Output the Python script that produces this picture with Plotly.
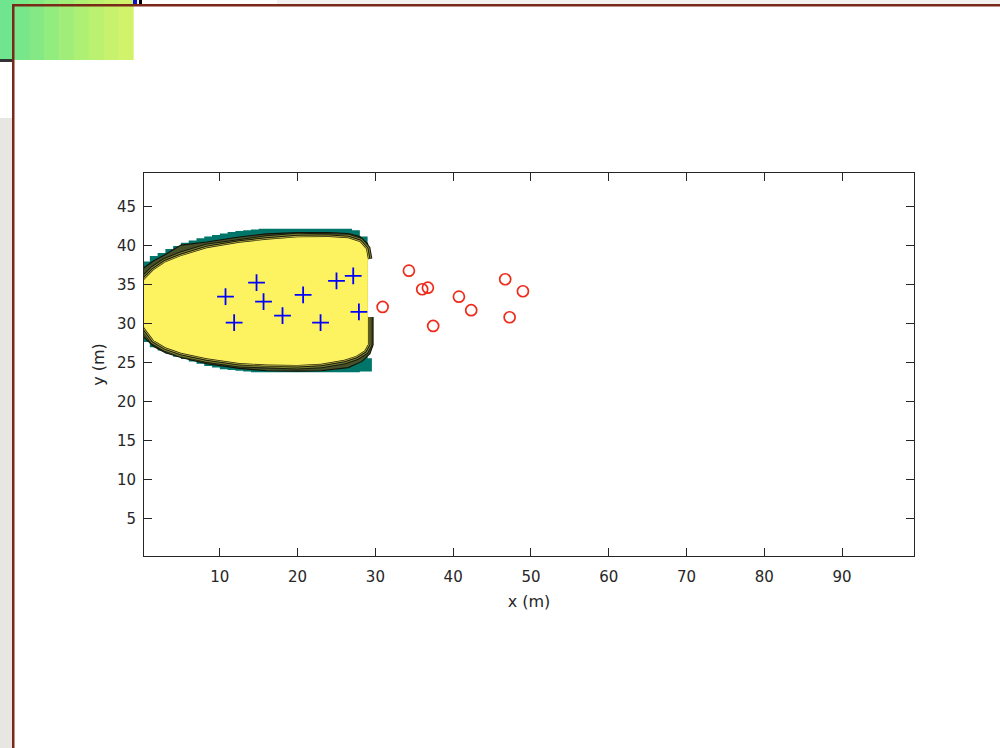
import plotly.graph_objects as go

# ---------------- data ----------------
# receivers inside the yellow zone (blue +)
plus_x = [10.73, 11.84, 14.72, 15.62, 18.06, 20.71, 22.95, 25.00, 27.15, 27.88]
plus_y = [33.50, 30.17, 35.29, 32.86, 31.06, 33.72, 30.17, 35.51, 36.15, 31.54]

# receivers outside (red o)
circ_x = [30.93, 34.31, 36.02, 36.75, 40.74, 42.32, 37.43, 46.69, 48.97, 47.26]
circ_y = [32.18, 36.83, 34.45, 34.65, 33.50, 31.76, 29.74, 35.73, 34.19, 30.86]

# inner (yellow, highest level) contour outline
yellow_x = [29.04, 29.04, 28.6, 27.5, 26.0, 23.0, 20.0, 16.0, 12.5, 8.3, 5.0, 3.0, 1.5, 0.3,
            -0.5, -0.8, -0.5, 0.3, 1.5, 3.0, 5.0, 8.3, 12.5, 16.0, 20.0, 24.0, 26.5, 28.0, 28.8, 29.04]
yellow_y = [30.9, 27.4, 26.6, 25.9, 25.4, 24.9, 24.75, 24.8, 25.0, 25.6, 26.3, 27.0, 27.9, 29.5,
            31.0, 32.6, 34.2, 35.7, 36.9, 37.9, 38.7, 39.7, 40.4, 40.8, 41.1, 41.15, 41.0, 40.5, 39.6, 38.3]

# outer edge of the dense band of contour lines
band_x = [29.7, 29.7, 29.3, 28.3, 26.5, 23.0, 20.0, 16.0, 12.5, 8.3, 5.0, 3.0, 1.5, 0.25,
          -1.2, -1.8, -1.2, 0.25, 1.5, 3.0, 5.0, 8.3, 12.5, 16.0, 20.0, 24.0, 26.5, 28.0, 29.0, 29.3]
band_y = [30.9, 27.3, 26.2, 25.2, 24.4, 24.0, 23.95, 24.0, 24.3, 24.9, 25.7, 26.3, 27.1, 28.3,
          30.5, 32.6, 35.0, 37.2, 38.1, 38.9, 40.1, 40.5, 41.15, 41.55, 41.7, 41.72, 41.6, 41.2, 40.3, 38.8]

# lowest (teal) level: blocky grid cells, one value per 1 m column
teal_col = [-1, 0, 1, 2, 3, 4, 5, 6, 7, 8, 9, 10, 11, 12, 13, 14, 15, 16, 17, 18, 19, 20,
            21, 22, 23, 24, 25, 26, 27, 28]
teal_top = [37.7, 38.0, 38.7, 39.1, 39.6, 40.0, 40.4, 40.7, 41.0, 41.2, 41.4, 41.6, 41.8, 41.9,
            42.0, 42.1, 42.2, 42.25, 42.25, 42.25, 42.25, 42.25, 42.25, 42.25, 42.25, 42.25,
            42.25, 42.2, 42.0, 41.2]
teal_bot = [27.3, 27.7, 27.0, 26.6, 26.2, 25.8, 25.5, 25.2, 24.9, 24.6, 24.4, 24.2, 24.1, 24.0,
            23.9, 23.8, 23.8, 23.8, 23.8, 23.8, 23.8, 23.8, 23.8, 23.8, 23.8, 23.8, 23.8, 23.8,
            23.8, 23.9]
teal_right = [29.0, 29.55]    # right edge of teal cells: main part / bottom-right corner
teal_corner_y = 25.6

x_ticks = [10, 20, 30, 40, 50, 60, 70, 80, 90]
y_ticks = [5, 10, 15, 20, 25, 30, 35, 40, 45]
x_range = [0.25, 99.25]
y_range = [0.25, 49.35]

# ---------------- styles ----------------
YELLOW = "#fdf25f"
TEAL = "#00756a"
BAND = "#46512a"
AX = "#262626"

fig = go.Figure()

# teal staircase polygon
tx, ty = [], []
for c, t in zip(teal_col, teal_top):
    tx += [c, c + 1]
    ty += [t, t]
tx += [teal_right[0], teal_right[1], teal_right[1]]
ty += [teal_corner_y, teal_corner_y, teal_bot[-1]]
for c, b in zip(reversed(teal_col), reversed(teal_bot)):
    tx += [c + 1, c]
    ty += [b, b]
fig.add_trace(go.Scatter(x=tx, y=ty, mode="lines", fill="toself", fillcolor=TEAL,
                         line=dict(width=0, color=TEAL), hoverinfo="skip"))

# band of dense contour lines
bx = band_x + [yellow_x[-1], yellow_x[0]]
by = band_y + [yellow_y[-1], yellow_y[0]]
fig.add_trace(go.Scatter(x=bx, y=by, mode="lines", fill="toself", fillcolor=BAND,
                         line=dict(width=0, color=BAND), hoverinfo="skip"))
fig.add_trace(go.Scatter(x=band_x, y=band_y, mode="lines",
                         line=dict(width=1.1, color="#111108"), hoverinfo="skip"))

# concentric contour stripes along the yellow edge
for w, col in [(9, "#1a1a0c"), (7, "#7a8434"), (5, "#1a1a0c"), (3, "#bdb443"), (1.4, "#262612")]:
    fig.add_trace(go.Scatter(x=yellow_x, y=yellow_y, mode="lines",
                             line=dict(width=w, color=col), hoverinfo="skip"))

# yellow top level
fig.add_trace(go.Scatter(x=yellow_x, y=yellow_y, mode="lines", fill="toself", fillcolor=YELLOW,
                         line=dict(width=0, color=YELLOW), hoverinfo="skip"))

# receivers
fig.add_trace(go.Scatter(x=plus_x, y=plus_y, mode="markers",
                         marker=dict(symbol="cross-thin", size=12, color="#0000ff",
                                     line=dict(width=1.8, color="#0000ff"))))
fig.add_trace(go.Scatter(x=circ_x, y=circ_y, mode="markers",
                         marker=dict(symbol="circle-open", size=11, color="#ee2a1a",
                                     line=dict(width=1.7, color="#ee2a1a"))))

# ---------------- window chrome around the figure ----------------
L, R, T, B = 144, 914, 173, 556


def px_x(p):
    return (p - L) / (R - L)


def px_y(p):
    return (B - p) / (B - T)


def rect(x0, y0, x1, y1, color):
    return dict(type="rect", xref="paper", yref="paper", x0=px_x(x0), x1=px_x(x1),
                y0=px_y(y1), y1=px_y(y0), fillcolor=color, line=dict(width=0), layer="above")


greens = ["#6fe58f", "#78e78a", "#84e984", "#92ec7e", "#a0ee79", "#aef074",
          "#bbf170", "#c6f26d", "#d0f36b"]
shapes = [rect(0, 0, 1000, 5, "#f3f1ef"), rect(142, 0, 277, 5, "#ffffff"),
          rect(0, 62, 12, 748, "#ffffff"), rect(0, 118, 12, 748, "#e8e6e3")]
for i, g in enumerate(greens):
    shapes.append(rect(i * 14.8, 0, (i + 1) * 14.8 + 0.5, 60, g))
shapes += [rect(133, 0, 137, 5, "#1010d0"), rect(139, 0, 142, 5, "#000000"),
           rect(0, 59, 12, 62, "#333333"),
           rect(12, 4, 1000, 6.5, "#7a2818"), rect(12, 4, 14.5, 748, "#7a2818")]

axis_common = dict(showline=True, linecolor=AX, linewidth=1, mirror="ticks", ticks="inside",
                   ticklen=8, tickwidth=1, tickcolor=AX, showgrid=False, zeroline=False,
                   tickfont=dict(family="DejaVu Sans", size=15, color=AX))

fig.update_layout(
    width=1000, height=748, autosize=False,
    margin=dict(l=L, r=1000 - R, t=T, b=748 - B, pad=0),
    paper_bgcolor="white", plot_bgcolor="white", showlegend=False,
    xaxis=dict(range=x_range, tickvals=x_ticks, ticktext=[str(v) for v in x_ticks],
               ticklabelstandoff=7,
               title=dict(text="x (m)", font=dict(family="DejaVu Sans", size=16, color=AX), standoff=10),
               **axis_common),
    yaxis=dict(range=y_range, tickvals=y_ticks, ticktext=[str(v) for v in y_ticks],
               ticklabelstandoff=4,
               title=dict(text="y (m)", font=dict(family="DejaVu Sans", size=16, color=AX), standoff=8),
               **axis_common),
    shapes=shapes,
)

fig.write_html("out.html")
